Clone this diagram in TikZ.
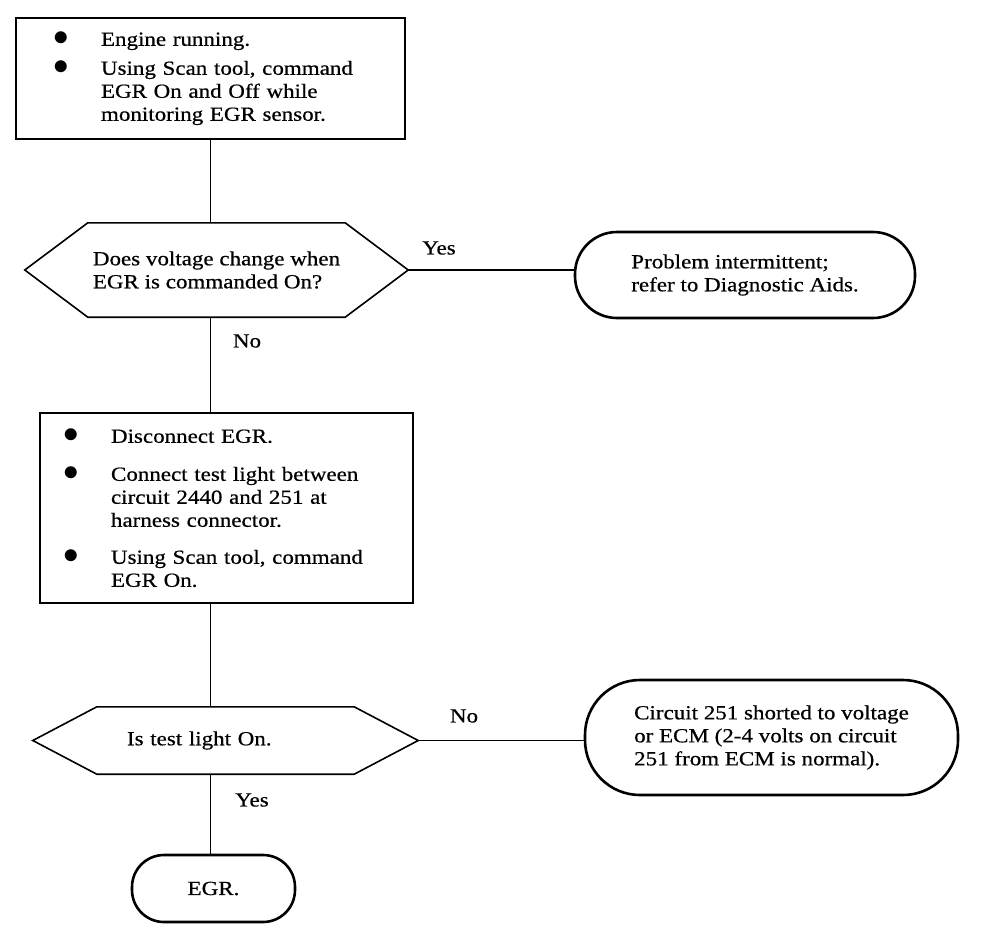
\documentclass[tikz,border=0pt]{standalone}
\usepackage{fontspec}
\setmainfont{Liberation Serif}[FakeStretch=1.15,FakeBold=0.6]
\usetikzlibrary{
  positioning,
}
\newcommand{\chartfont}{\fontsize{20pt}{23pt}\selectfont}
\newcommand{\blt}{\makebox[48pt][l]{\scalebox{1.5}{$\bullet$}}}
\tikzstyle{stepbox} = [
  rectangle,
  draw,
  line width=1.6pt,
  align=left,
  font=\chartfont,
]
\tikzstyle{askbox} = [
  rectangle,
  align=left,
  inner sep=0pt,
  font=\chartfont,
]
\tikzstyle{hexline} = [
  line width=1.6pt,
  line join=miter,
]
\tikzstyle{endbox} = [
  rectangle,
  draw,
  line width=2.6pt,
  align=left,
  font=\chartfont,
]
\tikzstyle{flow} = [
  line width=1.4pt,
]
\tikzstyle{tag} = [
  inner sep=0pt,
  font=\chartfont,
]

\begin{document}
\begin{tikzpicture}[x=1pt,y=-1pt]
      \useasboundingbox (0,0) rectangle (992,940);

			% steps
			\node[stepbox,minimum width=389,minimum height=121,inner xsep=37,text width=315] (start) at (210.5,78.5) {%
				\blt Engine running.\\[6pt]
				\blt Using Scan tool, command\\
				\hspace*{48pt}EGR On and Off while\\
				\hspace*{48pt}monitoring EGR sensor.};
			\node[stepbox,minimum width=373,minimum height=190,inner xsep=23,text width=327] (act) at (226.5,508) {%
				\blt Disconnect EGR.\\[15pt]
				\blt Connect test light between\\
				\hspace*{48pt}circuit 2440 and 251 at\\
				\hspace*{48pt}harness connector.\\[14pt]
				\blt Using Scan tool, command\\
				\hspace*{48pt}EGR On.};

			% questions
			\node[askbox,minimum width=383,minimum height=94] (q1) at (216.5,270) {Does voltage change when\\EGR is commanded On?};
			\draw[hexline] (q1.west) -- ([xshift=63pt]q1.north west) -- ([xshift=-63pt]q1.north east) -- (q1.east)
			  -- ([xshift=-63pt]q1.south east) -- ([xshift=63pt]q1.south west) -- cycle;
			\node[askbox,minimum width=385,minimum height=67,text width=197] (q2) at (225.5,740.5) {Is test light On.};
			\draw[hexline] (q2.west) -- ([xshift=64pt]q2.north west) -- ([xshift=-64pt]q2.north east) -- (q2.east)
			  -- ([xshift=-64pt]q2.south east) -- ([xshift=64pt]q2.south west) -- cycle;

			% results
			\node[endbox,minimum width=340,minimum height=86,rounded corners=42pt] (o1) at (745,275) {Problem intermittent;\\refer to Diagnostic Aids.};
			\node[endbox,minimum width=373,minimum height=115,rounded corners=55pt] (o2) at (771.5,737.5) {Circuit 251 shorted to voltage\\or ECM (2-4 volts on circuit\\251 from ECM is normal).};
			\node[endbox,minimum width=163,minimum height=67,rounded corners=32pt,align=center] (done) at (213.5,888.5) {EGR.};

			% connectors
			\draw[flow] (start.south) -- (start.south |- q1.north);
			\draw[flow] (start.south |- q1.south) -- (start.south |- act.north);
			\draw[flow] (start.south |- act.south) -- (start.south |- q2.north);
			\draw[flow] (start.south |- q2.south) -- (start.south |- done.north);
			\draw[flow] (q1.east) -- (q1.east -| o1.west);
			\draw[flow] (q2.east) -- (q2.east -| o2.west);

			% answers
			\node[tag] (yes1) at (439,248) {Yes};
			\node[tag] (no1) at (247,341) {No};
			\node[tag] (no2) at (464,716) {No};
			\node[tag] (yes2) at (252,800) {Yes};
      \end{tikzpicture}
\end{document}
